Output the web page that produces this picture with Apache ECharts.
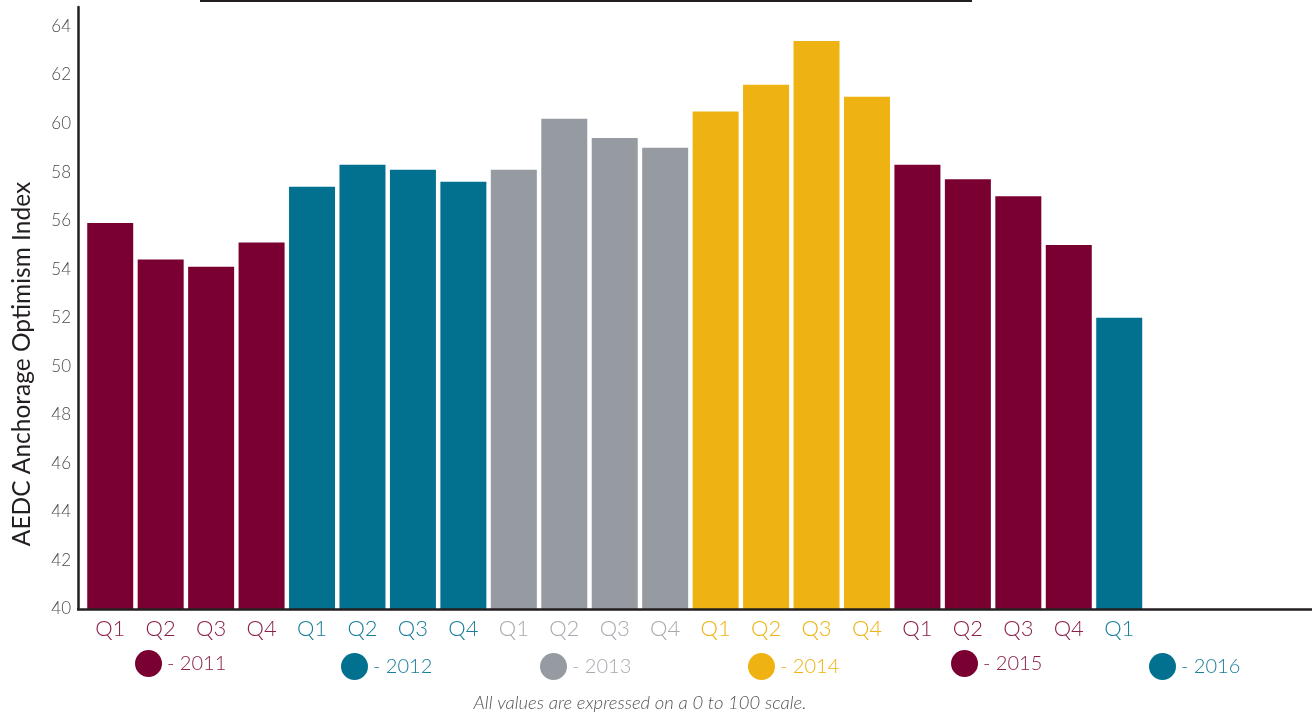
<!DOCTYPE html>
<html>
<head>
<meta charset="utf-8">
<script src="https://cdn.jsdelivr.net/npm/echarts@6/dist/echarts.min.js"></script>
<style>
html,body{margin:0;padding:0;background:#fff;}
#chart{width:1312px;height:715px;}
</style>
</head>
<body>
<div id="chart"></div>
<script>
// ---- data ----
const years = ['2011', '2012', '2013', '2014', '2015', '2016'];
const quarters = ['Q1','Q2','Q3','Q4','Q1','Q2','Q3','Q4','Q1','Q2','Q3','Q4','Q1','Q2','Q3','Q4','Q1','Q2','Q3','Q4','Q1'];
const quarterYear = ['2011','2011','2011','2011','2012','2012','2012','2012','2013','2013','2013','2013','2014','2014','2014','2014','2015','2015','2015','2015','2016'];
const values = [55.9, 54.4, 54.1, 55.1, 57.4, 58.3, 58.1, 57.6, 58.1, 60.2, 59.4, 59.0, 60.5, 61.6, 63.4, 61.1, 58.3, 57.7, 57.0, 55.0, 52.0];
const yTicks = [40, 42, 44, 46, 48, 50, 52, 54, 56, 58, 60, 62, 64];
const yAxisTitle = 'AEDC Anchorage Optimism Index';
const footnote = 'All values are expressed on a 0 to 100 scale.';

// ---- styles ----
const barColors = {'2011':'#7b0032','2012':'#02718f','2013':'#969ba2','2014':'#efb213','2015':'#7b0032','2016':'#02718f'};
const textColors = {'2011':'#8a1f4b','2012':'#1a7d98','2013':'#a6aaaf','2014':'#efb213','2015':'#8a1f4b','2016':'#1a7d98'};
const legendPos = [[135,650],[341,653],[540,653],[748,653],[951,650],[1149,653]];
const FONT = 'Lato, "Open Sans", sans-serif';

const blanks = ['', '', ''];
const xData = quarters.concat(blanks);

const series = years.map(y => ({
  name: y,
  type: 'bar',
  stack: 'all',
  barWidth: 46,
  itemStyle: {color: barColors[y]},
  emphasis: {disabled: true},
  data: values.map((v, i) => quarterYear[i] === y ? v : '-')
}));

const legends = years.map((y, i) => ({
  data: [{name: y, textStyle: {color: textColors[y]}}],
  left: legendPos[i][0],
  top: legendPos[i][1],
  padding: 0,
  icon: 'circle',
  itemWidth: 27,
  itemHeight: 27,
  selectedMode: false,
  formatter: '- {name}',
  textStyle: {fontSize: 20, fontFamily: FONT, fontWeight: 300, color: textColors[y]}
}));

const chart = echarts.init(document.getElementById('chart'), null, {renderer: 'canvas'});
chart.setOption({
  animation: false,
  backgroundColor: '#ffffff',
  grid: {left: 85, right: 16.2, top: 7, bottom: 106, containLabel: false},
  legend: legends,
  xAxis: {
    type: 'category',
    data: xData,
    axisLine: {show: false},
    axisTick: {show: false},
    axisLabel: {
      margin: 9,
      fontSize: 22,
      fontFamily: FONT,
      fontWeight: 300,
      interval: 0,
      color: (val, idx) => quarterYear[idx] ? textColors[quarterYear[idx]] : '#000'
    },
    splitLine: {show: false}
  },
  yAxis: {
    type: 'value',
    min: yTicks[0],
    max: 64.8,
    interval: 2,
    offset: 7,
    axisLine: {show: true, lineStyle: {color: '#231f20', width: 2.5}},
    axisTick: {show: false},
    splitLine: {show: false},
    axisLabel: {
      margin: 7,
      fontSize: 17,
      fontFamily: FONT,
      fontWeight: 300,
      color: '#4a4a4a',
      formatter: v => yTicks.indexOf(v) >= 0 ? String(v) : ''
    }
  },
  graphic: [
    {type: 'line', shape: {x1: 200, y1: 1, x2: 972, y2: 1}, style: {stroke: '#231f20', lineWidth: 2}, silent: true},
    {type: 'line', shape: {x1: 77, y1: 609.5, x2: 1312, y2: 609.5}, style: {stroke: '#231f20', lineWidth: 2.5}, silent: true, z: 10},
    {type: 'text', x: 22, y: 364, rotation: Math.PI / 2,
     style: {text: yAxisTitle, fill: '#231f20', font: '400 24.5px ' + FONT, textAlign: 'center', textVerticalAlign: 'middle'}, silent: true},
    {type: 'text', x: 640, y: 703,
     style: {text: footnote, fill: '#555555', font: 'italic 300 18.5px ' + FONT, textAlign: 'center', textVerticalAlign: 'middle'}, silent: true}
  ],
  series: series
});
</script>
</body>
</html>
